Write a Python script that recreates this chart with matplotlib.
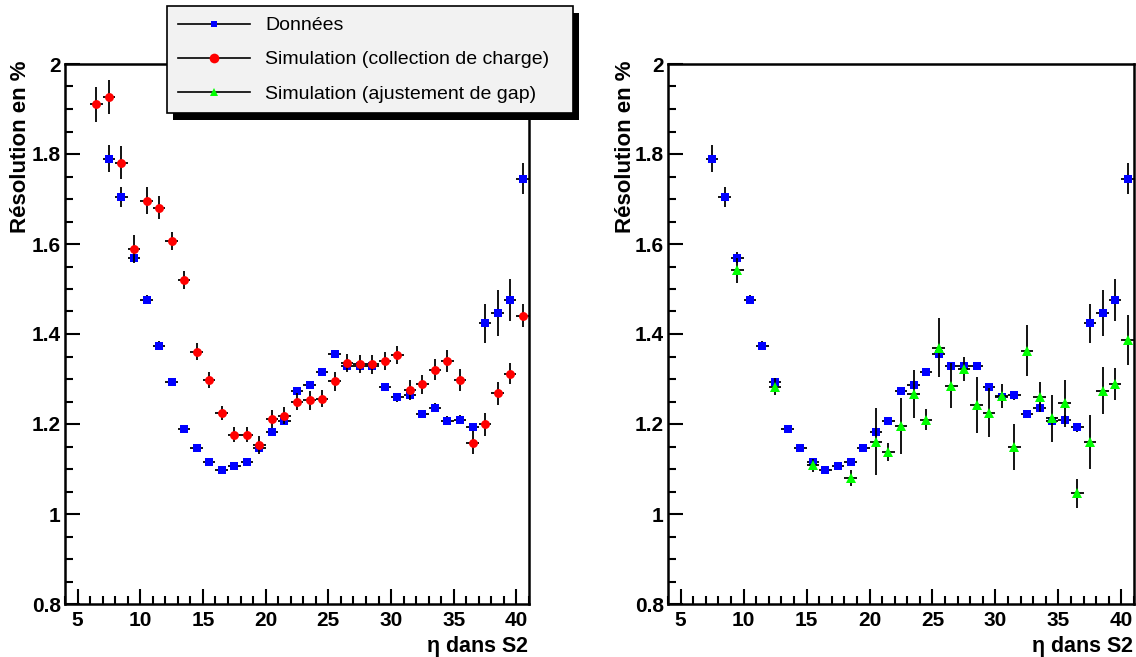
import numpy as np
import matplotlib
matplotlib.use("Agg")
import matplotlib.pyplot as plt
from matplotlib.lines import Line2D
from matplotlib.patches import Rectangle
from matplotlib.ticker import MultipleLocator

plt.rcParams['font.family'] = ['Liberation Sans', 'DejaVu Sans']

# ---- data ----
eta_data = [7.5, 8.5, 9.5, 10.5, 11.5, 12.5, 13.5, 14.5, 15.5, 16.5, 17.5, 18.5,
            19.5, 20.5, 21.5, 22.5, 23.5, 24.5, 25.5, 26.5, 27.5, 28.5, 29.5,
            30.5, 31.5, 32.5, 33.5, 34.5, 35.5, 36.5, 37.5, 38.5, 39.5, 40.5]
res_data = [1.789, 1.705, 1.570, 1.476, 1.374, 1.293, 1.190, 1.147, 1.116, 1.097,
            1.107, 1.115, 1.147, 1.182, 1.207, 1.273, 1.287, 1.316, 1.356, 1.328,
            1.328, 1.329, 1.282, 1.259, 1.264, 1.222, 1.236, 1.207, 1.210, 1.193,
            1.424, 1.446, 1.476, 1.745]
err_data = [0.030, 0.022, 0.012, 0.010, 0.010, 0.008, 0.006, 0.006, 0.006, 0.006,
            0.006, 0.006, 0.008, 0.008, 0.008, 0.008, 0.008, 0.008, 0.008, 0.008,
            0.008, 0.008, 0.008, 0.010, 0.010, 0.008, 0.010, 0.010, 0.010, 0.010,
            0.043, 0.051, 0.046, 0.034]

eta_charge = [6.5, 7.5, 8.5, 9.5, 10.5, 11.5, 12.5, 13.5, 14.5, 15.5, 16.5, 17.5,
              18.5, 19.5, 20.5, 21.5, 22.5, 23.5, 24.5, 25.5, 26.5, 27.5, 28.5,
              29.5, 30.5, 31.5, 32.5, 33.5, 34.5, 35.5, 36.5, 37.5, 38.5, 39.5, 40.5]
res_charge = [1.911, 1.927, 1.781, 1.589, 1.696, 1.681, 1.607, 1.519, 1.361, 1.298,
              1.224, 1.176, 1.176, 1.154, 1.211, 1.218, 1.249, 1.253, 1.256, 1.295,
              1.336, 1.333, 1.333, 1.340, 1.353, 1.276, 1.288, 1.321, 1.340, 1.298,
              1.158, 1.199, 1.268, 1.312, 1.441]
err_charge = [0.039, 0.038, 0.036, 0.030, 0.030, 0.026, 0.020, 0.020, 0.018, 0.017,
              0.016, 0.017, 0.017, 0.020, 0.020, 0.019, 0.019, 0.021, 0.019, 0.021,
              0.020, 0.020, 0.021, 0.021, 0.020, 0.021, 0.021, 0.023, 0.025, 0.024,
              0.025, 0.025, 0.026, 0.023, 0.025]

eta_gap = [9.5, 12.5, 15.5, 18.5, 20.5, 21.5, 22.5, 23.5, 24.5, 25.5, 26.5, 27.5,
           28.5, 29.5, 30.5, 31.5, 32.5, 33.5, 34.5, 35.5, 36.5, 37.5, 38.5, 39.5, 40.5]
res_gap = [1.542, 1.283, 1.108, 1.080, 1.161, 1.138, 1.196, 1.267, 1.210, 1.370,
           1.285, 1.322, 1.242, 1.225, 1.262, 1.148, 1.363, 1.260, 1.213, 1.246,
           1.046, 1.160, 1.274, 1.289, 1.387]
err_gap = [0.028, 0.019, 0.015, 0.018, 0.074, 0.020, 0.062, 0.054, 0.024, 0.065,
           0.050, 0.026, 0.063, 0.054, 0.027, 0.051, 0.056, 0.034, 0.052, 0.052,
           0.032, 0.059, 0.052, 0.036, 0.056]

bin_half = 0.5
labels = ["Données", "Simulation (collection de charge)", "Simulation (ajustement de gap)"]
ylabel = "Résolution en %"
xlabel = r"$\mathregular{\eta}$ dans S2"

W, H = 1136, 657
fig = plt.figure(figsize=(W / 100, H / 100), dpi=100)

def px_axes(x0, x1, y0, y1):
    return fig.add_axes([x0 / W, 1 - y1 / H, (x1 - x0) / W, (y1 - y0) / H])

axL = px_axes(65, 529, 64, 604)
axR = px_axes(668, 1134, 64, 604)

def style(ax):
    ax.set_xlim(4, 41)
    ax.set_ylim(0.8, 2.0)
    ax.xaxis.set_major_locator(MultipleLocator(5))
    ax.xaxis.set_minor_locator(MultipleLocator(1))
    ax.yaxis.set_major_locator(MultipleLocator(0.2))
    ax.yaxis.set_minor_locator(MultipleLocator(0.05))
    ax.tick_params(which='both', direction='in', top=False, right=False, width=1.5)
    ax.tick_params(which='major', length=11)
    ax.tick_params(which='minor', length=5.5)
    ax.tick_params(axis='x', which='major', pad=5, labelsize=15)
    ax.tick_params(axis='y', which='major', pad=3, labelsize=15)
    for lab in ax.get_xticklabels() + ax.get_yticklabels():
        lab.set_fontweight('bold')
    ax.yaxis.set_major_formatter(matplotlib.ticker.FuncFormatter(lambda v, p: f"{v:g}"))
    for s in ax.spines.values():
        s.set_linewidth(1.8)
    ax.set_ylabel(ylabel, loc='top', fontsize=16, fontweight='bold')
    ax.set_xlabel(xlabel, loc='right', fontsize=15.5, fontweight='bold')

def draw(ax, x, y, e, marker, color, ms, z):
    ax.errorbar(x, y, yerr=e, xerr=bin_half, fmt='none', ecolor='black',
                elinewidth=1.3, capsize=0, zorder=z)
    ax.plot(x, y, linestyle='none', marker=marker, color=color, markersize=ms,
            markeredgewidth=0, zorder=z + 0.5)

draw(axL, eta_data, res_data, err_data, 's', '#0000ff', 5.4, 3)
draw(axL, eta_charge, res_charge, err_charge, 'o', '#ff0000', 6.4, 4)
draw(axR, eta_data, res_data, err_data, 's', '#0000ff', 5.4, 3)
draw(axR, eta_gap, res_gap, err_gap, '^', '#00ff00', 6.6, 4)

for ax in (axL, axR):
    style(ax)
    ax.xaxis.set_label_coords(1.0, -0.055)
axL.yaxis.set_label_coords(-0.074, 1.007)
axR.yaxis.set_label_coords(-0.069, 1.007)

handles = [Line2D([], [], color='black', lw=1.2, marker='s', markerfacecolor='#0000ff',
                  markeredgewidth=0, markersize=5),
           Line2D([], [], color='black', lw=1.2, marker='o', markerfacecolor='#ff0000',
                  markeredgewidth=0, markersize=7),
           Line2D([], [], color='black', lw=1.2, marker='^', markerfacecolor='#00ff00',
                  markeredgewidth=0, markersize=6)]
leg = fig.legend(handles, labels, loc='upper left', mode='expand',
                 bbox_to_anchor=(167 / W, 1 - 110 / H, 406 / W, 104 / H), fontsize=14,
                 frameon=True, fancybox=False, shadow=False, facecolor='#f2f2f2',
                 edgecolor='black', framealpha=1, handlelength=3.7,
                 handletextpad=0.8, labelspacing=0.85, borderpad=0.55,
                 borderaxespad=0, markerfirst=True)
leg.get_frame().set_linewidth(1.2)
leg.set_zorder(10)

fig.canvas.draw()
bb = leg.get_frame().get_window_extent()
shadow = Rectangle((bb.x0 + 6, bb.y0 - 7), bb.width, bb.height, transform=None,
                   facecolor='black', edgecolor='none', zorder=9)
fig.patches.append(shadow)
shadow.set_figure(fig)

fig.savefig("out.png", dpi=100)
